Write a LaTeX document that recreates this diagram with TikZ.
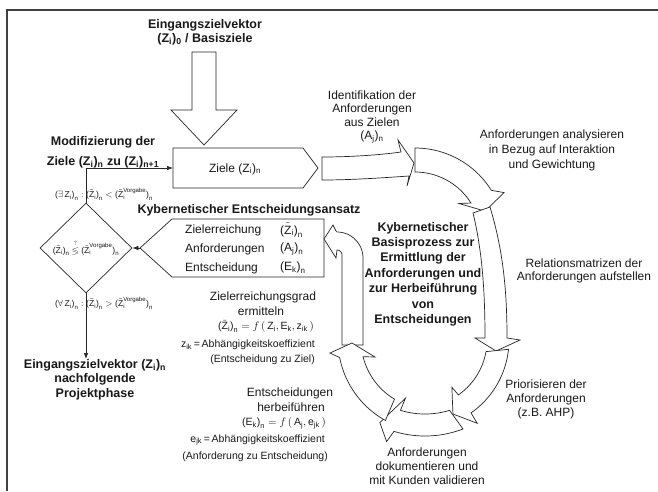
\documentclass[tikz,border=0pt]{standalone}
\usepackage{amsmath,amssymb}
\usepackage{fontspec}
\setmainfont{Liberation Sans}
\usetikzlibrary{arrows.meta,shapes.geometric}
\newcommand\sbs[1]{\textsubscript{#1}}
\newcommand\T[1]{\text{#1}}
\newcommand\Zti{\tilde{\T{Z}}_{\T{i}}}
\newcommand\ZV{\tilde{\T{Z}}_{\T{i}}^{\T{Vorgabe}}}
\newcommand\pn[1]{\T{(}#1\T{)}_{\T{n}}}
\begin{document}
\begin{tikzpicture}[x=1pt,y=-1pt,
  ln/.style={line width=0.7pt,draw=black!85},
  blk/.style={ln,fill=white},
  arr/.style={-{Latex[length=6pt,width=4.5pt]}},
  frame/.style={line width=1.3pt,draw=black!75},
  txt/.style={font=\fontsize{12}{14}\selectfont,align=center,inner sep=0pt,text=black!90},
  bt/.style={font=\fontsize{12.5}{15}\selectfont\bfseries,align=center,inner sep=0pt,text=black!90},
  sm/.style={font=\fontsize{10.5}{12}\selectfont,inner sep=0pt,text=black!90},
  tn/.style={font=\fontsize{8.6}{10}\selectfont,inner sep=0pt,text=black!90}]
\fill[white] (0,0) rectangle (658,491);
\useasboundingbox (0,0) rectangle (658,491);
% frame
\draw[frame] (7,491) -- (7,10) -- (658,10);
% big input arrow
\draw[blk] (192,52) -- (216,52) -- (216,110) -- (237,110) -- (204,145) -- (171,110) -- (192,110) -- cycle;
\node[bt,font=\fontsize{12.5}{14}\selectfont\bfseries] (t0) at (205,32) {Eingangszielvektor\\(Z\sbs{i})\sbs{0} / Basisziele};
% Ziele box
\draw[blk] (173,148) -- (303,148) -- (318,168) -- (303,188) -- (173,188) -- cycle;
\coordinate (zielw) at (173,168);
\node[txt] (ziele) at (235,169) {Ziele (Z\sbs{i})\sbs{n}};
% Kybernetischer Entscheidungsansatz box
\draw[blk] (140,248) -- (172,219) -- (324,219) -- (324,277) -- (172,277) -- cycle;
\coordinate (kybw) at (140,248);
\node[bt] (kybt) at (249,210) {Kybernetischer Entscheidungsansatz};
\node[txt,anchor=west] (r1) at (185,230) {Zielerreichung};
\node[txt,anchor=west] (r1v) at (280,230) {$\pn{\Zti}$};
\node[txt,anchor=west] (r2) at (185,249) {Anforderungen};
\node[txt,anchor=west] (r2v) at (280,249) {$\pn{\T{A}_{\T{j}}}$};
\node[txt,anchor=west] (r3) at (185,268) {Entscheidung};
\node[txt,anchor=west] (r3v) at (280,268) {$\pn{\T{E}_{\T{k}}}$};
% decision diamond
\node[draw=black!85,line width=0.7pt,diamond,minimum width=92pt,minimum height=90pt,inner sep=0pt] (dia) at (86,248) {};
\node[tn] (dtext) at (86,248) {$\pn{\Zti}\overset{?}{\lessgtr}\pn{\ZV}$};
\draw[ln,arr] (dia.north) |- (zielw);
\draw[ln,arr] (kybw) -- (dia.east);
\node[tn] (c1) at (104,194) {$\pn{\exists\,\T{Z}_{\T{i}}} : \pn{\Zti} < \pn{\ZV}$};
\node[tn] (c2) at (104,303) {$\pn{\forall\,\T{Z}_{\T{i}}} : \pn{\Zti} > \pn{\ZV}$};
\node[bt,font=\fontsize{12.5}{20}\selectfont\bfseries] (mod) at (103,152) {Modifizierung der\\Ziele (Z\sbs{i})\sbs{n} zu (Z\sbs{i})\sbs{n+1}};
\node[bt,font=\fontsize{12.5}{14.5}\selectfont\bfseries,anchor=north] (out) at (95,359) {Eingangszielvektor (Z\sbs{i})\sbs{n}\\nachfolgende\\Projektphase};
\draw[ln,arr] (dia.south) -- (dia.south |- out.north);
% cycle segments
% A
\draw[blk] (322,180) -- (322,157) .. controls (350,157) and (380,155) .. (401,152) -- (398,140) -- (414,163) -- (407,186) -- (409,176) .. controls (380,178) and (350,180) .. (322,180) -- cycle;
% B
\draw[blk] plot[domain=-90:-32,samples=24] ({415+90*cos(\x)},{238+90*sin(\x)})
  -- ({415+100*cos(-27)},{238+100*sin(-27)})
  -- ({415+75*cos(-21)},{238+75*sin(-21)})
  -- ({415+56*cos(-38)},{238+56*sin(-38)})
  -- plot[domain=-32:-90,samples=24] ({415+66*cos(\x)},{238+66*sin(\x)}) -- cycle;
% C
\draw[blk] (473,213) -- (490,207) .. controls (503,250) and (507,290) .. (507,338) -- (520,340) -- (496,351) -- (475,338) -- (485,338) .. controls (485,290) and (482,250) .. (473,213) -- cycle;
% D
\draw[blk] plot[domain=6:55,samples=24] ({420+89*cos(\x)},{340+89*sin(\x)})
  -- ({420+101*cos(55.5)},{340+101*sin(55.5)})
  -- ({420+81*cos(66)},{340+81*sin(66)})
  -- ({420+57*cos(56)},{340+57*sin(56)})
  -- plot[domain=55:10,samples=24] ({420+67*cos(\x)},{340+67*sin(\x)}) -- cycle;
% E
\draw[blk] plot[domain=69:107,samples=24] ({425+106*cos(\x)},{330+106*sin(\x)})
  -- ({425+118*cos(109)},{330+118*sin(109)})
  -- ({425+103*cos(116)},{330+103*sin(116)})
  -- ({425+71*cos(106)},{330+71*sin(106)})
  -- plot[domain=107:73,samples=24] ({425+84*cos(\x)},{330+84*sin(\x)}) -- cycle;
% G
\draw[blk] (342,345) -- (342,255)
  -- plot[domain=0:-90,samples=10] ({337+5*cos(\x)},{255+5*sin(\x)})
  -- (336,258) -- (324,239) -- (333,225) -- (336,231)
  -- plot[domain=-90:0,samples=20] ({337+26*cos(\x)},{258+26*sin(\x)})
  -- (363,345) -- cycle;
% F
\draw[blk] plot[domain=121:166,samples=24] ({430+69*cos(\x)},{340+69*sin(\x)})
  -- (375,357) -- (352,343) -- (330,353)
  -- plot[domain=169:119,samples=24] ({430+92*cos(\x)},{340+92*sin(\x)}) -- cycle;
% cycle labels
\node[txt,font=\fontsize{12}{13.5}\selectfont] (ident) at (372,117) {Identifikation der\\Anforderungen\\aus Zielen\\(A\sbs{j})\sbs{n}};
\node[txt,font=\fontsize{12}{15}\selectfont] (anal) at (552,150) {Anforderungen analysieren\\in Bezug auf Interaktion\\und Gewichtung};
\node[txt,font=\fontsize{12}{13.5}\selectfont] (rel) at (584,271) {Relationsmatrizen der\\Anforderungen aufstellen};
\node[txt,font=\fontsize{12}{14}\selectfont] (prio) at (546,399) {Priorisieren der\\Anforderungen\\(z.B. AHP)};
\node[txt,font=\fontsize{12}{14}\selectfont] (dok) at (427,466) {Anforderungen\\dokumentieren und\\mit Kunden validieren};
\node[bt,font=\fontsize{12.5}{15.4}\selectfont\bfseries] (basis) at (423,274) {Kybernetischer\\Basisprozess zur\\Ermittlung der\\Anforderungen und\\zur Herbeiführung\\von\\Entscheidungen};
% left-middle labels
\node[txt] (zg1) at (263,297) {Zielerreichungsgrad};
\node[txt] (zg2) at (261,311) {ermitteln};
\node[sm] (zg3) at (266,326) {$\pn{\Zti} = f\,(\,\T{Z}_{\T{i}},\T{E}_{\T{k}},\T{z}_{\T{ik}}\,)$};
\node[sm,anchor=east] (zg4) at (315,345) {z\sbs{ik}\,=\,Abhängigkeitskoeffizient};
\node[sm,anchor=east] (zg5) at (315,360) {(Entscheidung zu Ziel)};
\node[txt] (eh1) at (290,393) {Entscheidungen};
\node[txt] (eh2) at (291,407) {herbeiführen};
\node[sm] (eh3) at (284,423) {$\pn{\T{E}_{\T{k}}} = f\,(\,\T{A}_{\T{j}},\T{e}_{\T{jk}}\,)$};
\node[sm,anchor=east] (eh4) at (325,440) {e\sbs{jk}\,=\,Abhängigkeitskoeffizient};
\node[sm,anchor=east] (eh5) at (328,457) {(Anforderung zu Entscheidung)};
\end{tikzpicture}
\end{document}
